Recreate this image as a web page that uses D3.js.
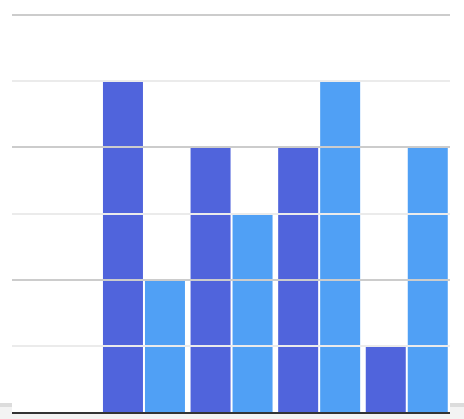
<!DOCTYPE html>
<html>
<head>
<meta charset="utf-8">
<script src="https://cdn.jsdelivr.net/npm/d3@7"></script>
<style>
html,body{margin:0;padding:0;background:#fff;}
svg{display:block;}
</style>
</head>
<body>
<svg id="chart" width="464" height="419"></svg>
<script>
const categories = ["1", "2", "3", "4", "5"];
const seriesNames = ["Series A", "Series B"];
const seriesA = [0, 5, 4, 4, 1];
const seriesB = [0, 2, 3, 5, 4];
const yTicks = [1, 2, 3, 4, 5, 6];
const colors = ["#5064dc", "#50a0f5"];

const W = 464, H = 419;
const margin = {left: 12, right: 14, top: 15};
const yBase = 412;
const svg = d3.select("#chart");

const x0 = d3.scaleBand().domain(categories).range([margin.left, W - margin.right]).padding(0);
const x1 = d3.scaleBand().domain(seriesNames).range([0, x0.bandwidth()])
  .paddingInner(0.0476).paddingOuter(0.0667).align(0.6);
const y = d3.scaleLinear().domain([0, 6]).range([yBase, margin.top]);

// bottom decoration
svg.append("rect").attr("x", 0).attr("y", 414).attr("width", W).attr("height", 5).attr("fill", "#f3f3f3");
svg.append("rect").attr("x", 0).attr("y", 403).attr("width", margin.left).attr("height", 4).attr("fill", "#dcdcdc");
svg.append("rect").attr("x", 0).attr("y", 407).attr("width", margin.left).attr("height", 7).attr("fill", "#f3f3f3");
svg.append("rect").attr("x", W - margin.right).attr("y", 403).attr("width", margin.right).attr("height", 4).attr("fill", "#dcdcdc");
svg.append("rect").attr("x", W - margin.right).attr("y", 407).attr("width", margin.right).attr("height", 7).attr("fill", "#f3f3f3");

const rows = categories.map((c, i) => ({c, vals: [seriesA[i], seriesB[i]]}));
svg.append("g").selectAll("g.grp").data(rows).join("g").attr("class", "grp")
  .attr("transform", d => `translate(${x0(d.c)},0)`)
  .selectAll("rect").data(d => d.vals.map((v, k) => ({v, k})))
  .join("rect")
  .attr("x", d => x1(seriesNames[d.k]))
  .attr("width", x1.bandwidth())
  .attr("y", d => y(d.v))
  .attr("height", d => yBase - y(d.v))
  .attr("fill", d => colors[d.k]);

// gridlines on top of bars
svg.append("g").selectAll("line").data(yTicks).join("line")
  .attr("x1", margin.left).attr("x2", W - margin.right)
  .attr("y1", d => Math.round(y(d))).attr("y2", d => Math.round(y(d)))
  .attr("stroke", d => d % 2 === 0 ? "#cccccc" : "#ebebeb")
  .attr("stroke-width", 2);

// axis line
svg.append("line").attr("x1", margin.left).attr("x2", W - margin.right)
  .attr("y1", yBase + 1).attr("y2", yBase + 1)
  .attr("stroke", "#333").attr("stroke-width", 2);
</script>
</body>
</html>
